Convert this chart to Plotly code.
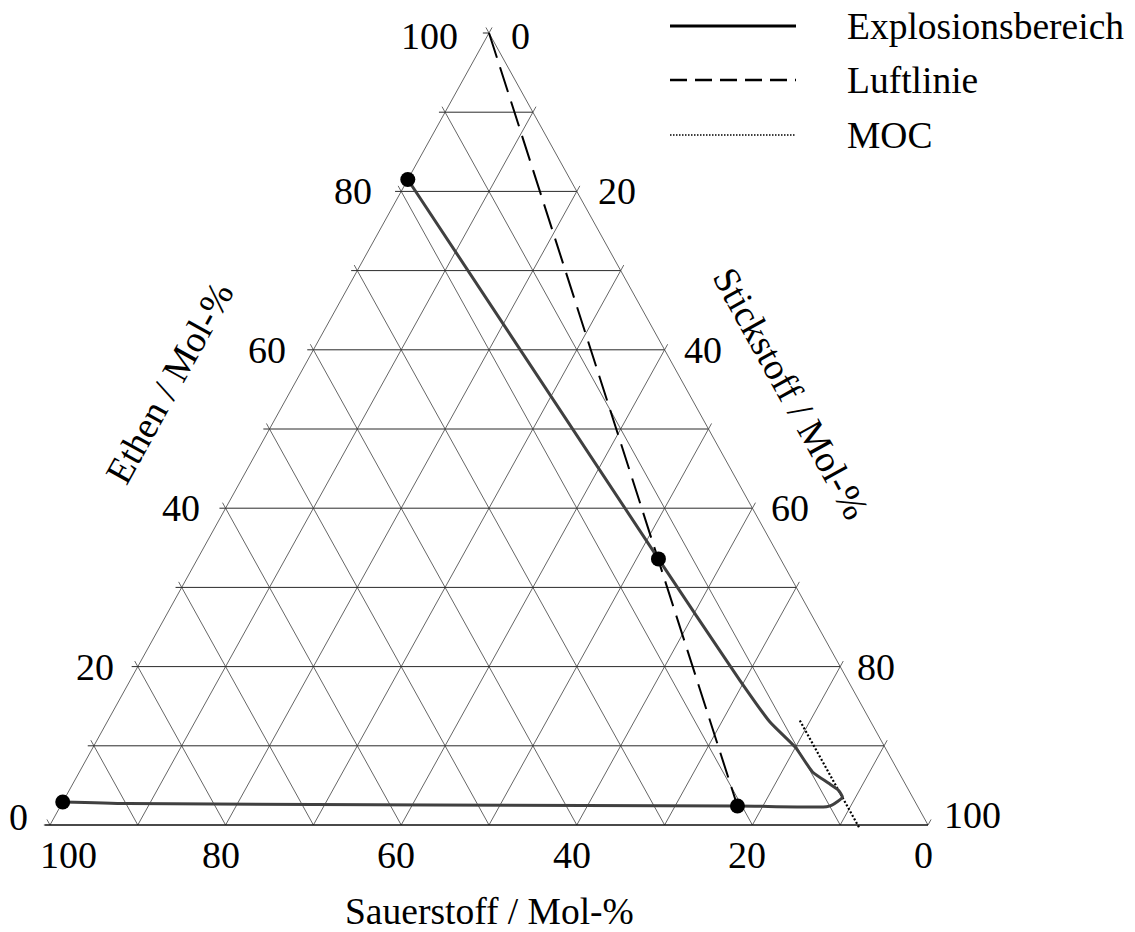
import plotly.graph_objects as go

# ---- composition data, mol-% (Ethen / Sauerstoff / Stickstoff) ----
# boundary of the explosive region, from the lower limit in pure O2,
# along the lower limit, round the nose and up the upper limit
ex_ethen      = [2.9, 2.7, 2.4, 2.3, 2.5, 3.5, 4.4, 5.3, 6.7, 9.8, 13.0, 18.3, 33.6, 81.5]
ex_sauerstoff = [97.1, 89.8, 20.5, 10.4, 9.7, 8.0, 8.0, 8.7, 9.8, 10.2, 11.5, 12.3, 13.9, 18.5]
ex_stickstoff = [0.0, 7.5, 77.1, 87.3, 87.8, 88.5, 87.6, 86.0, 83.5, 80.0, 75.5, 69.4, 52.5, 0.0]

# explosion limits (in O2 and in air)
pt_ethen      = [2.9, 2.4, 33.6, 81.5]
pt_sauerstoff = [97.1, 20.5, 13.9, 18.5]
pt_stickstoff = [0.0, 77.1, 52.5, 0.0]

# air line: pure ethene -> air (21 % O2 / 79 % N2)
air_ethen      = [100.0, 1.0]
air_sauerstoff = [0.0, 20.8]
air_stickstoff = [0.0, 78.2]

# minimum oxygen concentration
moc_ethen      = [13.2, -0.4]
moc_sauerstoff = [8.0, 8.0]
moc_stickstoff = [78.8, 92.4]

tick_values = [0, 20, 40, 60, 80, 100]
grid_values = [0, 10, 20, 30, 40, 50, 60, 70, 80, 90, 100]

# ---- page geometry (pixels) ----
W, H = 1135, 932
TRI_L, TRI_R, TRI_TOP, TRI_BASE = 50, 928, 33, 825
SX = (TRI_R - TRI_L) / 100.0     # px per unit in x
SY = (TRI_BASE - TRI_TOP) / 100.0  # px per unit in y
FONT = "Liberation Serif, Times New Roman, serif"
TICK_EXT = 0.7                   # small tick stubs beyond the edges


def to_xy(ethen, sauer, stick):
    """Ternary composition -> cartesian plot coordinates."""
    xs, ys = [], []
    for e, s, n in zip(ethen, sauer, stick):
        if e is None:
            xs.append(None)
            ys.append(None)
            continue
        xs.append(n + e / 2.0)
        ys.append(e)
    return xs, ys


def px_to_x(px):
    return (px - TRI_L) / SX


def py_to_y(py):
    return (TRI_BASE - py) / SY


fig = go.Figure()

# ---- grid: lines of constant Ethen, Sauerstoff and Stickstoff ----
he, hs, hn = [], [], []   # constant Ethen (horizontal)
de, ds, dn = [], [], []   # the two diagonal families
for k in grid_values:
    he += [k, k, None]
    hs += [100 - k + TICK_EXT, 0, None]
    hn += [-TICK_EXT, 100 - k, None]
    # constant Sauerstoff, stub beyond the left edge
    de += [0, 100 - k + TICK_EXT, None]
    ds += [k, k, None]
    dn += [100 - k, -TICK_EXT, None]
    # constant Stickstoff, stub beyond the right edge
    de += [0, 100 - k + TICK_EXT, None]
    ds += [100 - k, -TICK_EXT, None]
    dn += [k, k, None]

gx, gy = to_xy(de, ds, dn)
fig.add_trace(go.Scatter(x=gx, y=gy, mode="lines",
                         line=dict(color="#666666", width=1),
                         hoverinfo="skip", showlegend=False, cliponaxis=False))
gx, gy = to_xy(he, hs, hn)
fig.add_trace(go.Scatter(x=gx, y=gy, mode="lines",
                         line=dict(color="#2a2a2a", width=1),
                         hoverinfo="skip", showlegend=False, cliponaxis=False))

# base line drawn crisp black
bx, by = to_xy([0, 0], [100 + TICK_EXT * 0.8, 0], [-TICK_EXT * 0.8, 100])
fig.add_trace(go.Scatter(x=bx, y=by, mode="lines",
                         line=dict(color="black", width=1.2),
                         hoverinfo="skip", showlegend=False, cliponaxis=False))

# ---- air line ----
ax_, ay_ = to_xy(air_ethen, air_sauerstoff, air_stickstoff)
fig.add_trace(go.Scatter(x=ax_, y=ay_, mode="lines", name="Luftlinie",
                         line=dict(color="black", width=2, dash="26px,10px"),
                         showlegend=False, cliponaxis=False))

# ---- MOC ----
mx, my = to_xy(moc_ethen, moc_sauerstoff, moc_stickstoff)
fig.add_trace(go.Scatter(x=mx, y=my, mode="lines", name="MOC",
                         line=dict(color="black", width=2.2, dash="2px,2px"),
                         showlegend=False, cliponaxis=False))

# ---- explosive region ----
ex, ey = to_xy(ex_ethen, ex_sauerstoff, ex_stickstoff)
fig.add_trace(go.Scatter(x=ex, y=ey, mode="lines", name="Explosionsbereich",
                         line=dict(color="#404040", width=3,
                                   shape="spline", smoothing=0.5),
                         showlegend=False, cliponaxis=False))

px_, py_ = to_xy(pt_ethen, pt_sauerstoff, pt_stickstoff)
fig.add_trace(go.Scatter(x=px_, y=py_, mode="markers",
                         marker=dict(color="black", size=15),
                         showlegend=False, cliponaxis=False))

annotations = []
TICK_FONT = dict(family=FONT, size=38, color="black")
TITLE_FONT = dict(family=FONT, size=37.5, color="black")

# Ethen tick labels (left edge)
for v in tick_values:
    annotations.append(dict(
        x=v / 2.0, y=v, text=str(v), showarrow=False,
        xanchor="right", yanchor="middle",
        xshift=-(20 + 0.09 * v),
        yshift=8 if v == 0 else (-3 if v == 100 else 0),
        font=TICK_FONT))

# Stickstoff tick labels (right edge)
for v in tick_values:
    e = 100 - v
    annotations.append(dict(
        x=v + e / 2.0, y=e, text=str(v), showarrow=False,
        xanchor="left", yanchor="middle",
        xshift=20 - 0.06 * v,
        yshift=10 if v == 100 else (-3 if v == 0 else 0),
        font=TICK_FONT))

# Sauerstoff tick labels (base)
for v in tick_values:
    annotations.append(dict(
        x=100 - v, y=0, text=str(v), showarrow=False,
        xanchor="center", yanchor="middle",
        xshift=18 if v == 100 else -5, yshift=-30,
        font=TICK_FONT))

# axis titles
annotations.append(dict(x=50, y=0, yshift=-86, text="Sauerstoff / Mol-%",
                        showarrow=False, xanchor="center", yanchor="middle",
                        font=TITLE_FONT))
annotations.append(dict(x=px_to_x(169), y=py_to_y(383), text="Ethen / Mol-%",
                        showarrow=False, xanchor="center", yanchor="middle",
                        textangle=-61, font=TITLE_FONT))
annotations.append(dict(x=px_to_x(791), y=py_to_y(393), text="Stickstoff / Mol-%",
                        showarrow=False, xanchor="center", yanchor="middle",
                        textangle=61, font=TITLE_FONT))

# ---- legend (drawn as shapes + text) ----
legend_rows = [
    ("Explosionsbereich", dict(color="black", width=3, dash="solid"), 26),
    ("Luftlinie", dict(color="black", width=2.5, dash="17px,8px"), 80),
    ("MOC", dict(color="black", width=1.5, dash="1.5px,1.5px"), 135),
]
shapes = []
for label, style, row_py in legend_rows:
    yy = py_to_y(row_py)
    shapes.append(dict(type="line", xref="x", yref="y",
                       x0=px_to_x(670), x1=px_to_x(796), y0=yy, y1=yy,
                       line=style))
    annotations.append(dict(x=px_to_x(845), y=yy, text=label, showarrow=False,
                            xanchor="left", yanchor="middle",
                            font=TITLE_FONT))

fig.update_layout(
    width=W, height=H,
    margin=dict(l=0, r=0, t=0, b=0, pad=0),
    paper_bgcolor="white", plot_bgcolor="white",
    xaxis=dict(range=[px_to_x(0), px_to_x(W)], visible=False, fixedrange=True),
    yaxis=dict(range=[py_to_y(H), py_to_y(0)], visible=False, fixedrange=True),
    annotations=annotations, shapes=shapes,
    showlegend=False,
)

fig.write_html("out.html")
